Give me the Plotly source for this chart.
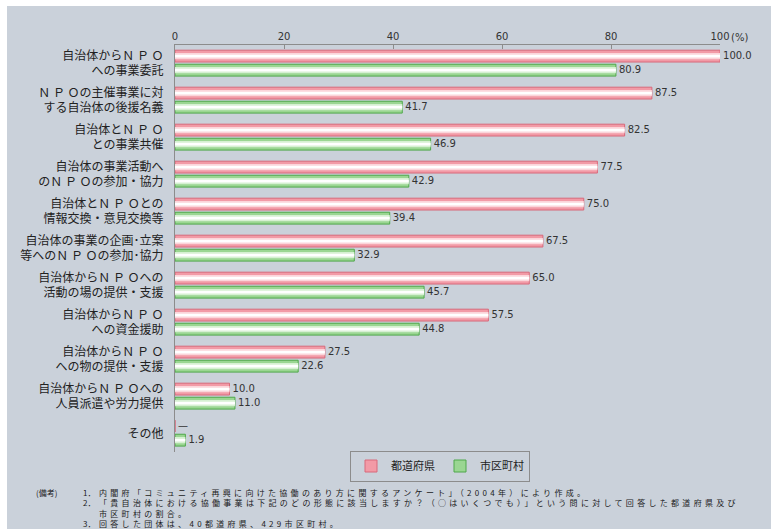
import plotly.graph_objects as go

categories = [
    "自治体からＮ Ｐ Ｏ<br>への事業委託",
    "Ｎ Ｐ Ｏの主催事業に対<br>する自治体の後援名義",
    "自治体とＮ Ｐ Ｏ<br>との事業共催",
    "自治体の事業活動へ<br>のＮ Ｐ Ｏの参加・協力",
    "自治体とＮ Ｐ Ｏとの<br>情報交換・意見交換等",
    "自治体の事業の企画･立案<br>等へのＮ Ｐ Ｏの参加･協力",
    "自治体からＮ Ｐ Ｏへの<br>活動の場の提供・支援",
    "自治体からＮ Ｐ Ｏ<br>への資金援助",
    "自治体からＮ Ｐ Ｏ<br>への物の提供・支援",
    "自治体からＮ Ｐ Ｏへの<br>人員派遣や労力提供",
    "その他",
]
prefectures = [100.0, 87.5, 82.5, 77.5, 75.0, 67.5, 65.0, 57.5, 27.5, 10.0, 0.0]
municipalities = [80.9, 41.7, 46.9, 42.9, 39.4, 32.9, 45.7, 44.8, 22.6, 11.0, 1.9]
series_names = ["都道府県", "市区町村"]
tick_vals = [0, 20, 40, 60, 80, 100]
tick_text = ["0", "20", "40", "60", "80", "100"]
note_numbers = ["1．", "2．", "", "3．"]
note_lines = [
    "内閣府「コミュニティ再興に向けた協働のあり方に関するアンケート」（2004年）により作成。",
    "「貴自治体における協働事業は下記のどの形態に該当しますか？（○はいくつでも）」という問に対して回答した都道府県及び",
    "市区町村の割合。",
    "回答した団体は、40都道府県、429市区町村。",
]

BG = "#cad1da"
W, H = 771, 529
ML, MR, MT, MB = 175, 51, 45, 77
PW = W - ML - MR
PH = H - MT - MB

def px_x(px):
    return (px - ML) / PW

def px_y(py):
    return (H - MB - py) / PH

def fmt(v):
    return "—" if v == 0 else f"{v:.1f}"

fig = go.Figure()

styles = [
    (prefectures, series_names[0], "#f29aa6", "#d8697a", "#fbd5da", -0.20),
    (municipalities, series_names[1], "#9ad692", "#4fa84a", "#d6f0d2", 0.18),
]

for vals, name, fill, line, mid, c in styles:
    fig.add_trace(go.Bar(
        y=categories, x=vals, orientation="h", name=name,
        width=0.32, offset=c - 0.16,
        marker=dict(color=fill, line=dict(color=line, width=1)),
        text=[fmt(v) for v in vals], textposition="outside",
        textfont=dict(family="DejaVu Sans", size=11, color="#333333"),
        cliponaxis=False, showlegend=True,
    ))
    fig.add_trace(go.Bar(
        y=categories, x=vals, orientation="h", name=name,
        width=0.17, offset=c - 0.085,
        marker=dict(color=mid, line=dict(width=0)),
        showlegend=False, hoverinfo="skip",
    ))
    fig.add_trace(go.Bar(
        y=categories, x=vals, orientation="h", name=name,
        width=0.07, offset=c - 0.035,
        marker=dict(color="#ffffff", line=dict(width=0)),
        showlegend=False, hoverinfo="skip",
    ))

fig.add_shape(type="rect", xref="paper", yref="paper",
              x0=px_x(7), x1=px_x(W + 20), y0=px_y(H + 20), y1=px_y(6),
              fillcolor=BG, line=dict(width=0), layer="below")

fig.add_annotation(x=100, y=px_y(37), xref="x", yref="paper", text="(%)",
                   showarrow=False, xanchor="left", yanchor="middle",
                   xshift=9,
                   font=dict(family="DejaVu Sans", size=10, color="#333333"))

note_font = dict(family="Noto Sans CJK JP", size=8, color="#1a1a1a")
LS = "letter-spacing:3.3px"
NOTE_TOP = 486
fig.add_annotation(x=px_x(35), y=px_y(NOTE_TOP), xref="paper", yref="paper", text="(備考)",
                   showarrow=False, xanchor="left", yanchor="top", font=note_font,
                   borderpad=0, align="left")
fig.add_annotation(x=px_x(82), y=px_y(NOTE_TOP), xref="paper", yref="paper",
                   text="<br>".join(n if n else " " for n in note_numbers),
                   showarrow=False, xanchor="left", yanchor="top", font=note_font,
                   borderpad=0, align="left")
fig.add_annotation(x=px_x(98), y=px_y(NOTE_TOP), xref="paper", yref="paper",
                   text="<br>".join(f'<span style="{LS}">{t}</span>' for t in note_lines),
                   showarrow=False, xanchor="left", yanchor="top", font=note_font,
                   borderpad=0, align="left")

fig.update_layout(
    width=W, height=H,
    margin=dict(l=ML, r=MR, t=MT, b=MB, pad=0),
    paper_bgcolor="#ffffff", plot_bgcolor="rgba(0,0,0,0)",
    barmode="overlay",
    showlegend=True,
    legend=dict(orientation="h", x=px_x(440), y=px_y(466), xanchor="center", yanchor="middle",
                bgcolor=BG, bordercolor="#8c8c8c", borderwidth=1,
                font=dict(family="Noto Sans CJK JP", size=11, color="#222222"),
                itemwidth=30, traceorder="normal"),
    xaxis=dict(side="top", range=[0, 100], tickvals=tick_vals, ticktext=tick_text,
               showgrid=False, zeroline=False, showline=True, linecolor="#8c8c8c", linewidth=1,
               ticks="inside", ticklen=4, tickcolor="#8c8c8c",
               tickfont=dict(family="DejaVu Sans", size=10, color="#333333")),
    yaxis=dict(type="category", autorange="reversed", showgrid=False, zeroline=False,
               showline=True, linecolor="#8c8c8c", linewidth=1, ticks="",
               ticklabelstandoff=8,
               tickfont=dict(family="Noto Sans CJK JP", size=12, color="#222222")),
)

fig.write_html("out.html")
